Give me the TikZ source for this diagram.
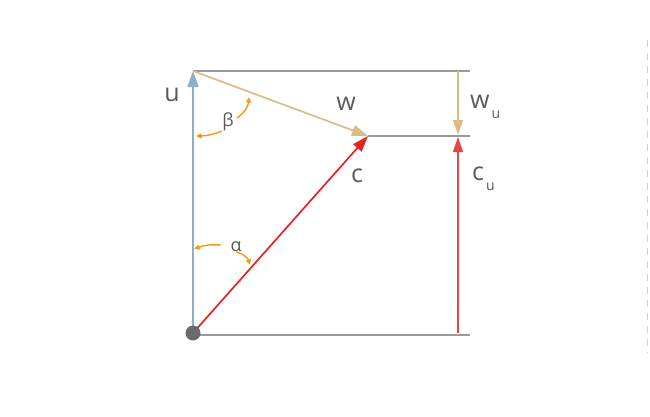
\documentclass[tikz,border=0pt]{standalone}
\usepackage{fontspec}
\setmainfont{Open Sans}
\usepackage{xcolor}
\usepackage{tikz}
\usetikzlibrary{arrows.meta}

\definecolor{ublue}{HTML}{8AAFC8}
\definecolor{wtan}{HTML}{DDBC84}
\definecolor{cred}{HTML}{E32424}
\definecolor{guide}{HTML}{9A9A9A}
\definecolor{txt}{HTML}{5A5A5A}
\definecolor{angarc}{HTML}{F29B17}

\tikzset{
  vec/.style={line width=1.7pt,-{Triangle[length=16pt,width=11pt]}},
  thinvec/.style={line width=1.1pt,-{Triangle[length=15pt,width=10pt]}},
  guideline/.style={guide,line width=1.4pt},
  angarrow/.style={angarc,line width=1.4pt,-{Triangle[length=5.5pt,width=5pt]}},
  lbl/.style={txt,font=\fontsize{25}{25}\selectfont,inner sep=0pt},
  greek/.style={txt,font=\fontsize{18}{18}\selectfont,inner sep=0pt}
}
\newcommand{\lowsub}[1]{\hspace{2pt}\raisebox{-10pt}{\fontsize{14}{14}\selectfont #1}}

\begin{document}
\begin{tikzpicture}[x=1pt,y=-1pt]
\useasboundingbox (0,0) rectangle (650,416);
\coordinate (O) at (193,333);
\coordinate (U) at (193,71);
\coordinate (W) at (368,136);
\coordinate (R) at (470,71);
\coordinate (M) at (470,136);
\coordinate (B) at (470,335);
\coordinate (WuTop) at (458,71);
\coordinate (WuTip) at (458,135);
\coordinate (CuBot) at (458,333);
\coordinate (CuTip) at (458,137);
% guide lines
\draw[guideline] (U) -- (R);
\draw[guideline] (W) -- (M);
\draw[guideline] (O |- B) -- (B);
% vectors
\draw[vec,ublue] (O) -- (U);
\draw[vec,wtan] (U) -- (W);
\draw[vec,cred] (O) -- (W);
\draw[thinvec,wtan] (WuTop) -- (WuTip);
\draw[thinvec,cred!85!white] (CuBot) -- (CuTip);
\fill[txt!90!white] (O) circle (7.5);
% labels
\node[lbl] (lu) at (172,95) {u};
\node[lbl] (lw) at (346,104) {w};
\node[lbl] (lc) at (357,176) {c};
\node[lbl,anchor=base west] (lwu) at (470,108) {w\lowsub{u}};
\node[lbl,anchor=base west] (lcu) at (472,180) {c\lowsub{u}};
% angles
\node[greek] (beta) at (228,122) {β};
\node[greek] (alpha) at (236,247) {α};
\draw[angarrow] (222,131) to[bend left=10] (196,136);
\draw[angarrow] (237,118) to[bend right=25] (249,97);
\draw[angarrow] (221,245) to[bend right=12] (194,249);
\draw[angarrow] (236,252) to[bend left=30] (250,265);
% faint edge
\draw[red!25,line width=0.8pt,dash pattern=on 7pt off 6pt] (647,40) -- (647,353);
\end{tikzpicture}
\end{document}
